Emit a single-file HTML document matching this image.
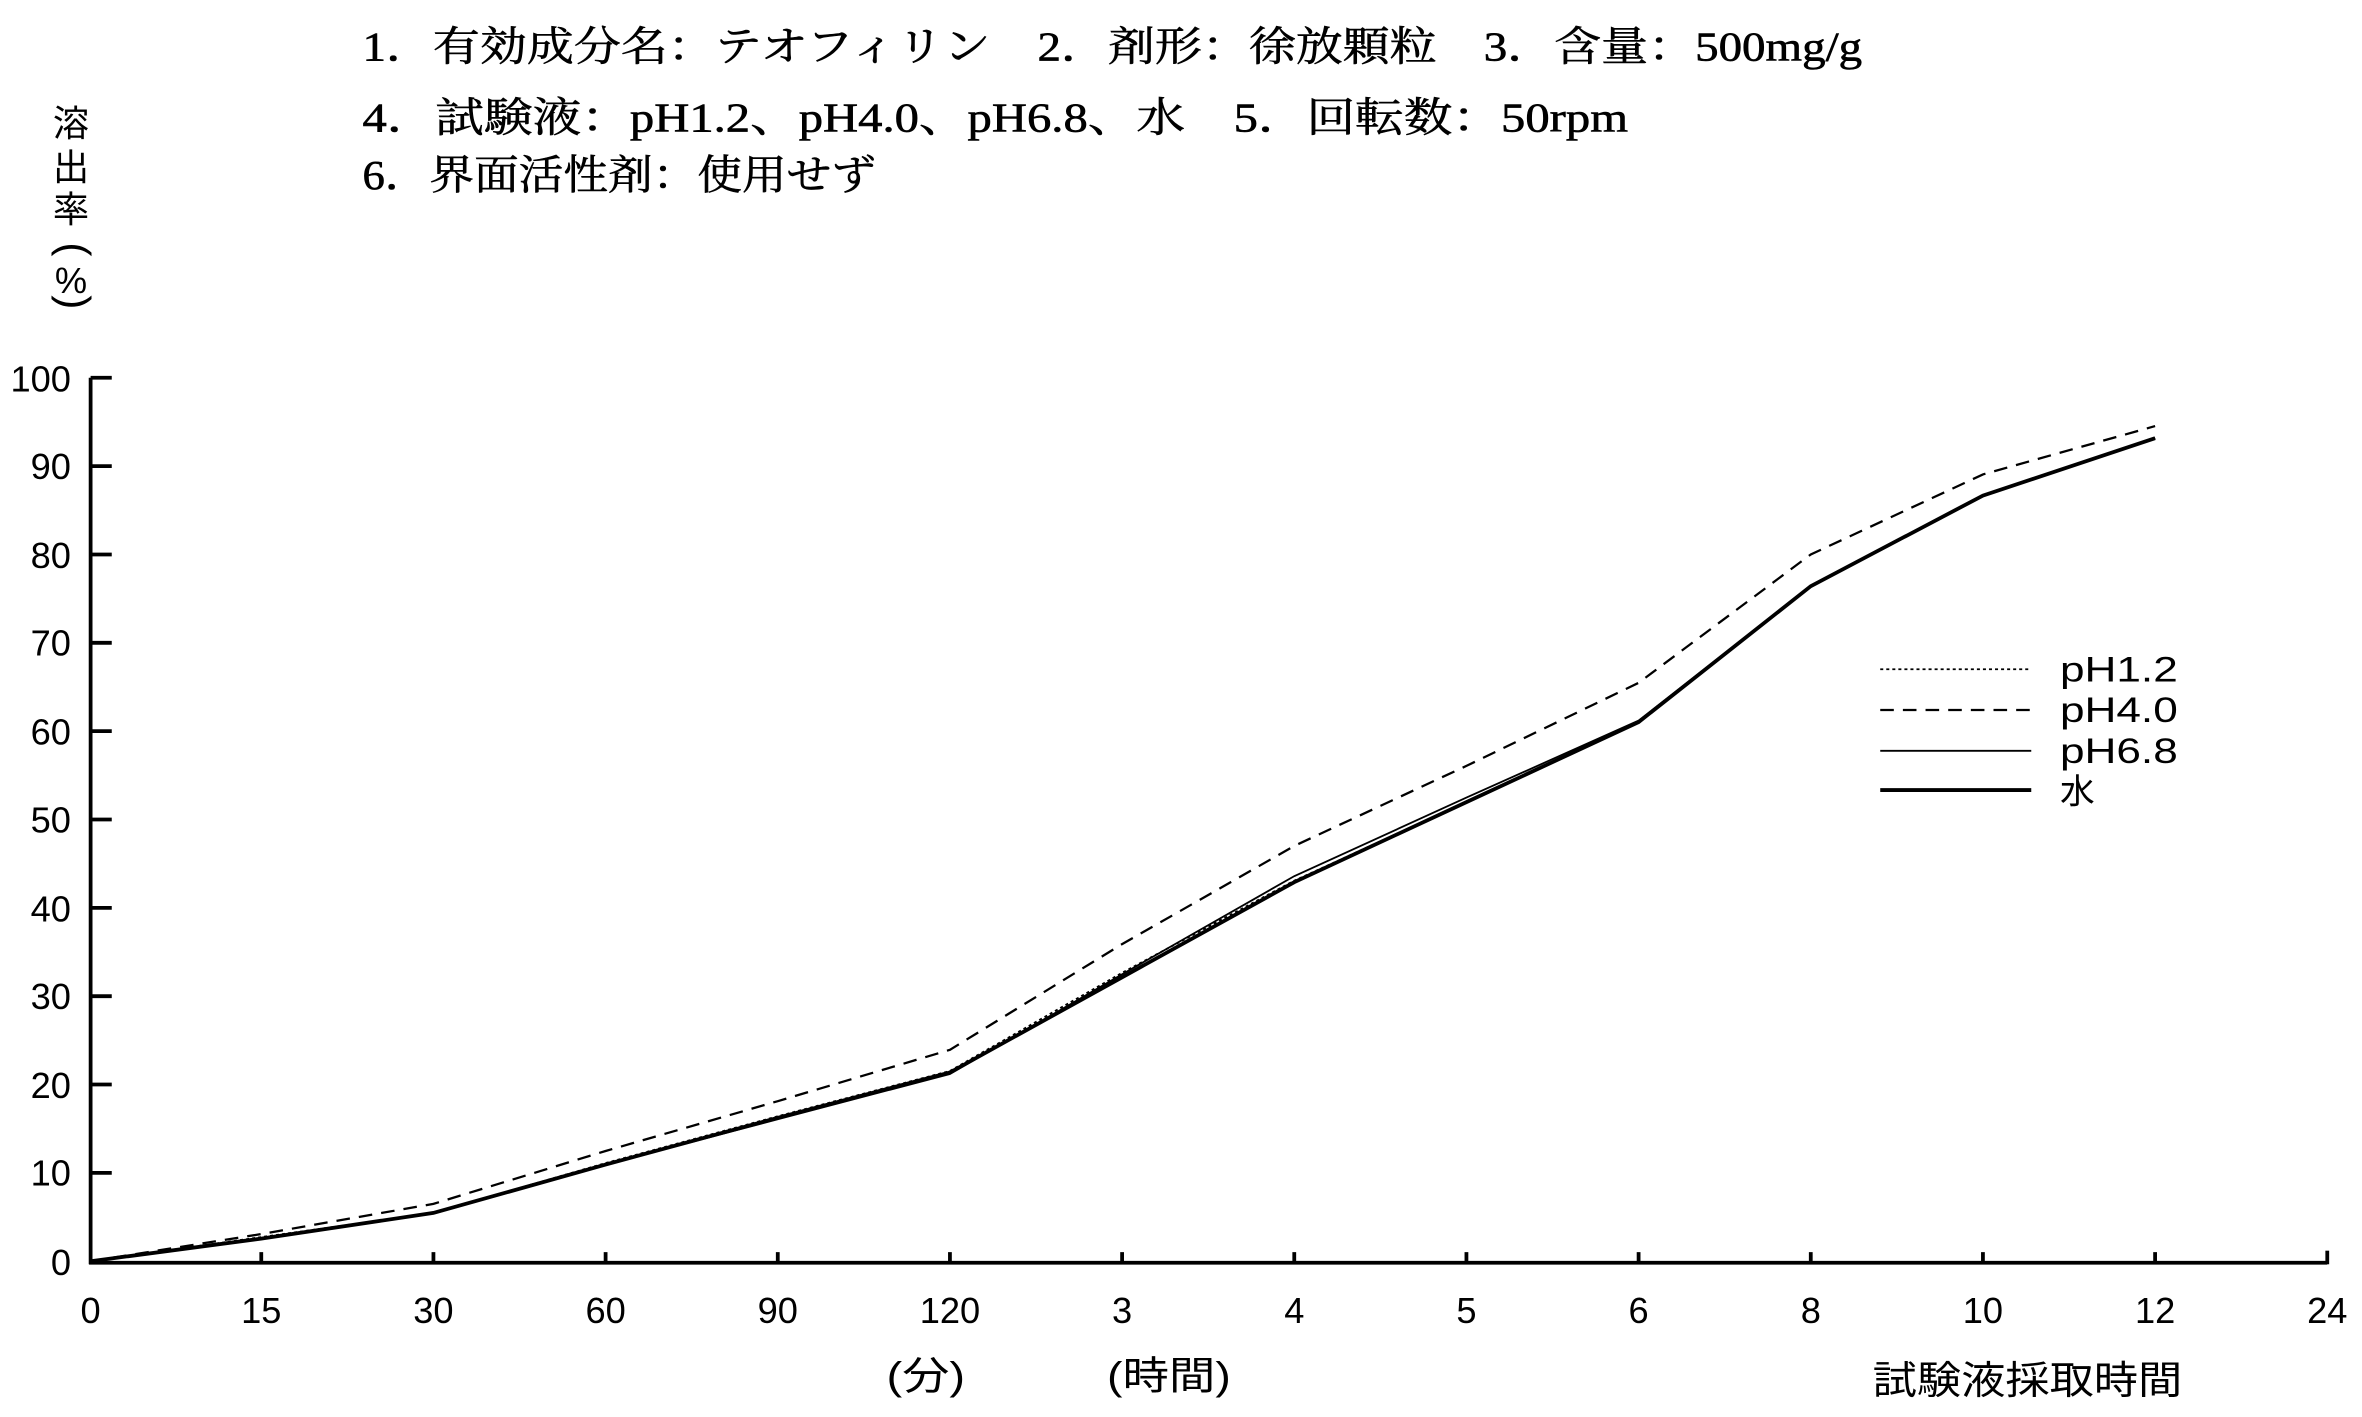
<!DOCTYPE html>
<html><head><meta charset="utf-8"><style>html,body{margin:0;padding:0;background:#fff}svg{display:block}</style></head>
<body>
<svg width="2362" height="1417" viewBox="0 0 1564 938" xmlns="http://www.w3.org/2000/svg">
<rect width="1564" height="938" fill="#fff"/>
<g font-family="'Liberation Serif','Noto Serif CJK SC','Noto Sans CJK JP',serif" font-size="27" fill="#000" stroke="#000" stroke-width="0.4">
<text x="240" y="40" textLength="993" lengthAdjust="spacingAndGlyphs">1．有効成分名：テオフィリン　2．剤形：徐放顆粒　3．含量：500mg/g</text>
<text x="240" y="87" textLength="838" lengthAdjust="spacingAndGlyphs">4．試験液：pH1.2、pH4.0、pH6.8、水　5．回転数：50rpm</text>
<text x="240" y="125" textLength="340" lengthAdjust="spacingAndGlyphs">6．界面活性剤：使用せず</text>
</g>
<g font-family="'Liberation Sans','Noto Sans CJK JP',sans-serif" font-size="24" fill="#000" text-anchor="middle">
<text x="47" y="90">溶</text><text x="47" y="119">出</text><text x="47" y="147">率</text>
<text x="47" y="194">%</text>
</g>
<g font-family="'Liberation Sans',sans-serif" font-size="28" fill="#000" text-anchor="middle">
<text transform="translate(40 165) rotate(90)">(</text>
<text transform="translate(40 200) rotate(90)">)</text>
</g>
<g stroke="#000" stroke-width="2.5" fill="none">
<line x1="60" y1="250" x2="60" y2="837"/>
<line x1="59" y1="836" x2="1541" y2="836"/>
<line x1="1541" y1="828" x2="1541" y2="837"/>
<path d="M60 250h14M60 308.5h14M60 367h14M60 425.5h14M60 484h14M60 542.5h14M60 601h14M60 659.5h14M60 718h14M60 776.5h14"/>
<path d="M173 829v7M287 829v7M401 829v7M515 829v7M629 829v7M743 829v7M857 829v7M971 829v7M1085 829v7M1199 829v7M1313 829v7M1427 829v7"/>
</g>
<g font-family="'Liberation Sans','Noto Sans CJK JP',sans-serif" font-size="24" fill="#000" text-anchor="end">
<text x="47" y="259">100</text><text x="47" y="317">90</text><text x="47" y="376">80</text><text x="47" y="434">70</text><text x="47" y="493">60</text><text x="47" y="551">50</text><text x="47" y="610">40</text><text x="47" y="668">30</text><text x="47" y="727">20</text><text x="47" y="785">10</text><text x="47" y="844">0</text>
</g>
<g font-family="'Liberation Sans','Noto Sans CJK JP',sans-serif" font-size="24" fill="#000" text-anchor="middle">
<text x="60" y="876">0</text><text x="173" y="876">15</text><text x="287" y="876">30</text><text x="401" y="876">60</text><text x="515" y="876">90</text><text x="629" y="876">120</text><text x="743" y="876">3</text><text x="857" y="876">4</text><text x="971" y="876">5</text><text x="1085" y="876">6</text><text x="1199" y="876">8</text><text x="1313" y="876">10</text><text x="1427" y="876">12</text><text x="1541" y="876">24</text>
</g>
<g font-family="'Liberation Sans','Noto Sans CJK JP',sans-serif" font-size="26" fill="#000">
<text x="587" y="920" textLength="52" lengthAdjust="spacingAndGlyphs">(分)</text>
<text x="733" y="920" textLength="82" lengthAdjust="spacingAndGlyphs">(時間)</text>
<text x="1240" y="923" textLength="205" lengthAdjust="spacingAndGlyphs">試験液採取時間</text>
</g>
<g fill="none" stroke="#000">
<polyline stroke-width="1.5" stroke-dasharray="9,6" points="60,835 173,817 287,797 401,762 515,729 629,695 743,625 857,560 971,507 1085,452 1199,367 1313,314 1427,282"/>
<polyline stroke-width="1.2" stroke-dasharray="2,2" points="60,835 173,819 287,803 401,770 515,739 629,709 743,644 857,583 971,531 1085,478 1199,388 1313,328 1427,290"/>
<polyline stroke-width="1.2" points="60,835 173,820 287,803 401,771 515,741 629,711 743,645 857,580 971,528 1085,477 1199,388 1313,328 1427,290"/>
<polyline stroke-width="2.5" points="60,835 173,820 287,803 401,771 515,740 629,710 743,647 857,584 971,531 1085,478 1199,388 1313,328 1427,290"/>
<line x1="1245" y1="443" x2="1345" y2="443" stroke-width="1.2" stroke-dasharray="2,2"/>
<line x1="1245" y1="470" x2="1345" y2="470" stroke-width="1.5" stroke-dasharray="9,6"/>
<line x1="1245" y1="497" x2="1345" y2="497" stroke-width="1.2"/>
<line x1="1245" y1="523" x2="1345" y2="523" stroke-width="2.5"/>
</g>
<g font-family="'Liberation Sans','Noto Sans CJK JP',sans-serif" font-size="23" fill="#000">
<text x="1364" y="451" textLength="78" lengthAdjust="spacingAndGlyphs">pH1.2</text>
<text x="1364" y="478" textLength="78" lengthAdjust="spacingAndGlyphs">pH4.0</text>
<text x="1364" y="505" textLength="78" lengthAdjust="spacingAndGlyphs">pH6.8</text>
<text x="1364" y="532">水</text>
</g>
</svg>
</body></html>
